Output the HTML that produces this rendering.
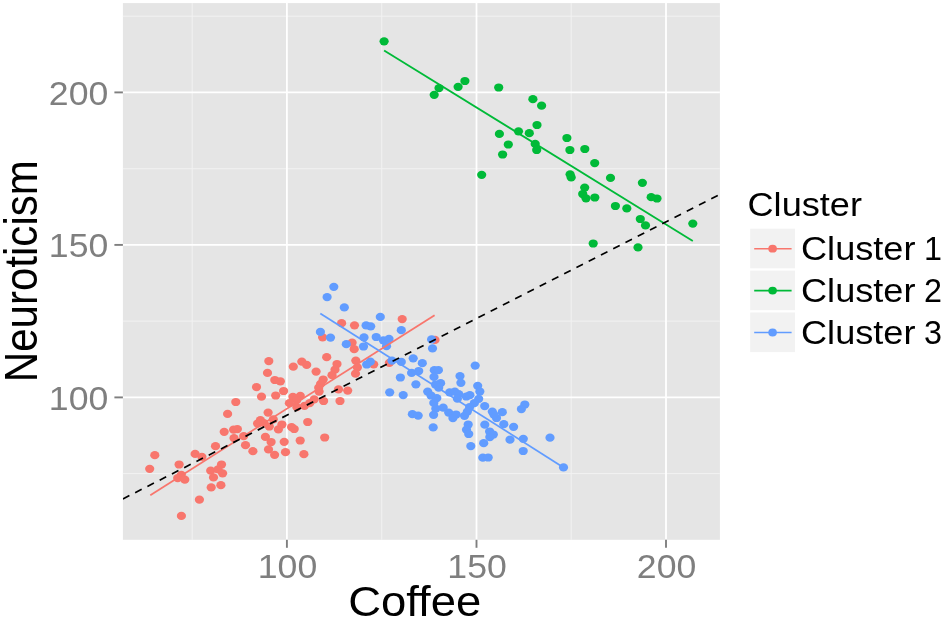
<!DOCTYPE html>
<html><head><meta charset="utf-8"><title>Coffee vs Neuroticism</title>
<style>html,body{margin:0;padding:0;background:#fff}svg{display:block}text{font-family:"Liberation Sans",sans-serif}</style></head><body>
<svg width="945" height="620" viewBox="0 0 945 620">
<rect width="945" height="620" fill="#fff"/>
<rect x="122.9" y="3.1" width="597.0" height="536.7" fill="#E5E5E5"/>
<g stroke="#F2F2F2" stroke-width="1">
<line x1="192.2" y1="3.1" x2="192.2" y2="539.8"/>
<line x1="381.7" y1="3.1" x2="381.7" y2="539.8"/>
<line x1="571.2" y1="3.1" x2="571.2" y2="539.8"/>
<line x1="122.9" y1="473.6" x2="719.9" y2="473.6"/>
<line x1="122.9" y1="321.1" x2="719.9" y2="321.1"/>
<line x1="122.9" y1="168.7" x2="719.9" y2="168.7"/>
<line x1="122.9" y1="16.2" x2="719.9" y2="16.2"/>
</g>
<g stroke="#FFFFFF" stroke-width="1.8">
<line x1="286.9" y1="3.1" x2="286.9" y2="539.8"/>
<line x1="122.9" y1="397.4" x2="719.9" y2="397.4"/>
<line x1="476.5" y1="3.1" x2="476.5" y2="539.8"/>
<line x1="122.9" y1="244.9" x2="719.9" y2="244.9"/>
<line x1="666.0" y1="3.1" x2="666.0" y2="539.8"/>
<line x1="122.9" y1="92.4" x2="719.9" y2="92.4"/>
</g>
<g stroke="#7F7F7F" stroke-width="1.9">
<line x1="286.9" y1="539.8" x2="286.9" y2="547.8"/>
<line x1="114.4" y1="397.4" x2="122.9" y2="397.4"/>
<line x1="476.5" y1="539.8" x2="476.5" y2="547.8"/>
<line x1="114.4" y1="244.9" x2="122.9" y2="244.9"/>
<line x1="666.0" y1="539.8" x2="666.0" y2="547.8"/>
<line x1="114.4" y1="92.4" x2="122.9" y2="92.4"/>
</g>
<g fill="#7F7F7F" font-size="32.5">
<text x="287.5" y="578.3" text-anchor="middle" textLength="59.5" lengthAdjust="spacingAndGlyphs">100</text>
<text x="108.3" y="409.5" text-anchor="end" textLength="59.5" lengthAdjust="spacingAndGlyphs">100</text>
<text x="477.1" y="578.3" text-anchor="middle" textLength="59.5" lengthAdjust="spacingAndGlyphs">150</text>
<text x="108.3" y="257.0" text-anchor="end" textLength="59.5" lengthAdjust="spacingAndGlyphs">150</text>
<text x="666.6" y="578.3" text-anchor="middle" textLength="59.5" lengthAdjust="spacingAndGlyphs">200</text>
<text x="108.3" y="104.5" text-anchor="end" textLength="59.5" lengthAdjust="spacingAndGlyphs">200</text>
</g>
<text x="348.2" y="616" font-size="43" textLength="133" lengthAdjust="spacingAndGlyphs" fill="#000">Coffee</text>
<text transform="translate(37.3,382.2) rotate(-90) scale(1,1.1)" font-size="42" textLength="222" lengthAdjust="spacingAndGlyphs" fill="#000">Neuroticism</text>
<clipPath id="c"><rect x="122.9" y="3.1" width="597.0" height="536.7"/></clipPath>
<g clip-path="url(#c)">
<g fill="#F8766D">
<ellipse cx="154.8" cy="455.2" rx="4.6" ry="4.1"/>
<ellipse cx="149.7" cy="468.8" rx="4.6" ry="4.1"/>
<ellipse cx="179.1" cy="464.5" rx="4.6" ry="4.1"/>
<ellipse cx="181.3" cy="474.8" rx="4.6" ry="4.1"/>
<ellipse cx="177.7" cy="478.1" rx="4.6" ry="4.1"/>
<ellipse cx="184.8" cy="479.7" rx="4.6" ry="4.1"/>
<ellipse cx="181.4" cy="515.9" rx="4.6" ry="4.1"/>
<ellipse cx="195.1" cy="453.9" rx="4.6" ry="4.1"/>
<ellipse cx="201.9" cy="456.8" rx="4.6" ry="4.1"/>
<ellipse cx="215.5" cy="446.2" rx="4.6" ry="4.1"/>
<ellipse cx="199.4" cy="499.7" rx="4.6" ry="4.1"/>
<ellipse cx="210.7" cy="470.7" rx="4.6" ry="4.1"/>
<ellipse cx="221.5" cy="464.5" rx="4.6" ry="4.1"/>
<ellipse cx="218.1" cy="469.4" rx="4.6" ry="4.1"/>
<ellipse cx="222.6" cy="473.3" rx="4.6" ry="4.1"/>
<ellipse cx="213.5" cy="477.4" rx="4.6" ry="4.1"/>
<ellipse cx="220.9" cy="485.2" rx="4.6" ry="4.1"/>
<ellipse cx="211.2" cy="487.4" rx="4.6" ry="4.1"/>
<ellipse cx="245.5" cy="445.2" rx="4.6" ry="4.1"/>
<ellipse cx="252.9" cy="451.2" rx="4.6" ry="4.1"/>
<ellipse cx="235.8" cy="402.0" rx="4.6" ry="4.1"/>
<ellipse cx="227.6" cy="413.9" rx="4.6" ry="4.1"/>
<ellipse cx="224.2" cy="431.8" rx="4.6" ry="4.1"/>
<ellipse cx="233.6" cy="429.7" rx="4.6" ry="4.1"/>
<ellipse cx="237.4" cy="429.1" rx="4.6" ry="4.1"/>
<ellipse cx="234.0" cy="438.1" rx="4.6" ry="4.1"/>
<ellipse cx="243.7" cy="436.1" rx="4.6" ry="4.1"/>
<ellipse cx="261.5" cy="396.7" rx="4.6" ry="4.1"/>
<ellipse cx="275.7" cy="395.5" rx="4.6" ry="4.1"/>
<ellipse cx="268.1" cy="412.6" rx="4.6" ry="4.1"/>
<ellipse cx="260.4" cy="420.2" rx="4.6" ry="4.1"/>
<ellipse cx="257.6" cy="423.5" rx="4.6" ry="4.1"/>
<ellipse cx="264.0" cy="423.2" rx="4.6" ry="4.1"/>
<ellipse cx="273.3" cy="419.3" rx="4.6" ry="4.1"/>
<ellipse cx="269.3" cy="426.5" rx="4.6" ry="4.1"/>
<ellipse cx="281.9" cy="424.5" rx="4.6" ry="4.1"/>
<ellipse cx="278.4" cy="429.4" rx="4.6" ry="4.1"/>
<ellipse cx="265.4" cy="436.9" rx="4.6" ry="4.1"/>
<ellipse cx="271.1" cy="442.0" rx="4.6" ry="4.1"/>
<ellipse cx="268.5" cy="449.4" rx="4.6" ry="4.1"/>
<ellipse cx="284.2" cy="441.8" rx="4.6" ry="4.1"/>
<ellipse cx="285.5" cy="452.2" rx="4.6" ry="4.1"/>
<ellipse cx="274.6" cy="454.8" rx="4.6" ry="4.1"/>
<ellipse cx="256.5" cy="387.1" rx="4.6" ry="4.1"/>
<ellipse cx="268.8" cy="361.1" rx="4.6" ry="4.1"/>
<ellipse cx="267.5" cy="372.9" rx="4.6" ry="4.1"/>
<ellipse cx="274.8" cy="380.0" rx="4.6" ry="4.1"/>
<ellipse cx="280.4" cy="381.3" rx="4.6" ry="4.1"/>
<ellipse cx="283.6" cy="391.0" rx="4.6" ry="4.1"/>
<ellipse cx="293.3" cy="366.7" rx="4.6" ry="4.1"/>
<ellipse cx="301.8" cy="361.7" rx="4.6" ry="4.1"/>
<ellipse cx="306.7" cy="364.9" rx="4.6" ry="4.1"/>
<ellipse cx="316.1" cy="371.6" rx="4.6" ry="4.1"/>
<ellipse cx="337.0" cy="364.0" rx="4.6" ry="4.1"/>
<ellipse cx="335.0" cy="369.7" rx="4.6" ry="4.1"/>
<ellipse cx="332.0" cy="375.2" rx="4.6" ry="4.1"/>
<ellipse cx="323.2" cy="379.5" rx="4.6" ry="4.1"/>
<ellipse cx="320.6" cy="383.9" rx="4.6" ry="4.1"/>
<ellipse cx="318.7" cy="387.7" rx="4.6" ry="4.1"/>
<ellipse cx="319.1" cy="391.6" rx="4.6" ry="4.1"/>
<ellipse cx="355.8" cy="360.6" rx="4.6" ry="4.1"/>
<ellipse cx="357.4" cy="367.4" rx="4.6" ry="4.1"/>
<ellipse cx="355.5" cy="373.7" rx="4.6" ry="4.1"/>
<ellipse cx="373.7" cy="364.3" rx="4.6" ry="4.1"/>
<ellipse cx="338.5" cy="389.4" rx="4.6" ry="4.1"/>
<ellipse cx="347.7" cy="390.6" rx="4.6" ry="4.1"/>
<ellipse cx="340.0" cy="401.0" rx="4.6" ry="4.1"/>
<ellipse cx="323.6" cy="401.0" rx="4.6" ry="4.1"/>
<ellipse cx="314.2" cy="399.4" rx="4.6" ry="4.1"/>
<ellipse cx="309.7" cy="403.2" rx="4.6" ry="4.1"/>
<ellipse cx="304.5" cy="405.8" rx="4.6" ry="4.1"/>
<ellipse cx="292.9" cy="396.8" rx="4.6" ry="4.1"/>
<ellipse cx="300.3" cy="395.9" rx="4.6" ry="4.1"/>
<ellipse cx="296.8" cy="400.0" rx="4.6" ry="4.1"/>
<ellipse cx="289.4" cy="403.2" rx="4.6" ry="4.1"/>
<ellipse cx="296.8" cy="407.1" rx="4.6" ry="4.1"/>
<ellipse cx="307.7" cy="422.0" rx="4.6" ry="4.1"/>
<ellipse cx="291.6" cy="427.1" rx="4.6" ry="4.1"/>
<ellipse cx="294.2" cy="429.0" rx="4.6" ry="4.1"/>
<ellipse cx="324.7" cy="437.5" rx="4.6" ry="4.1"/>
<ellipse cx="300.2" cy="440.5" rx="4.6" ry="4.1"/>
<ellipse cx="303.9" cy="454.2" rx="4.6" ry="4.1"/>
<ellipse cx="326.7" cy="357.2" rx="4.6" ry="4.1"/>
<ellipse cx="322.6" cy="337.3" rx="4.6" ry="4.1"/>
<ellipse cx="341.6" cy="323.2" rx="4.6" ry="4.1"/>
<ellipse cx="354.5" cy="325.3" rx="4.6" ry="4.1"/>
<ellipse cx="352.1" cy="342.7" rx="4.6" ry="4.1"/>
<ellipse cx="354.2" cy="349.2" rx="4.6" ry="4.1"/>
<ellipse cx="402.2" cy="319.1" rx="4.6" ry="4.1"/>
<ellipse cx="435.0" cy="339.9" rx="4.6" ry="4.1"/>
<ellipse cx="389.4" cy="362.8" rx="4.6" ry="4.1"/>
</g>
<g fill="#00BA38">
<ellipse cx="384.1" cy="41.3" rx="4.6" ry="4.1"/>
<ellipse cx="434.2" cy="94.8" rx="4.6" ry="4.1"/>
<ellipse cx="439.0" cy="88.1" rx="4.6" ry="4.1"/>
<ellipse cx="458.1" cy="86.8" rx="4.6" ry="4.1"/>
<ellipse cx="464.9" cy="81.0" rx="4.6" ry="4.1"/>
<ellipse cx="498.7" cy="87.5" rx="4.6" ry="4.1"/>
<ellipse cx="532.9" cy="99.2" rx="4.6" ry="4.1"/>
<ellipse cx="541.6" cy="105.7" rx="4.6" ry="4.1"/>
<ellipse cx="499.4" cy="133.9" rx="4.6" ry="4.1"/>
<ellipse cx="518.5" cy="131.3" rx="4.6" ry="4.1"/>
<ellipse cx="529.3" cy="133.2" rx="4.6" ry="4.1"/>
<ellipse cx="537.0" cy="125.0" rx="4.6" ry="4.1"/>
<ellipse cx="508.3" cy="144.5" rx="4.6" ry="4.1"/>
<ellipse cx="502.6" cy="154.5" rx="4.6" ry="4.1"/>
<ellipse cx="535.2" cy="143.9" rx="4.6" ry="4.1"/>
<ellipse cx="536.7" cy="150.0" rx="4.6" ry="4.1"/>
<ellipse cx="566.9" cy="138.0" rx="4.6" ry="4.1"/>
<ellipse cx="569.9" cy="150.0" rx="4.6" ry="4.1"/>
<ellipse cx="584.8" cy="149.0" rx="4.6" ry="4.1"/>
<ellipse cx="481.7" cy="174.8" rx="4.6" ry="4.1"/>
<ellipse cx="570.1" cy="174.3" rx="4.6" ry="4.1"/>
<ellipse cx="571.2" cy="177.4" rx="4.6" ry="4.1"/>
<ellipse cx="594.7" cy="163.1" rx="4.6" ry="4.1"/>
<ellipse cx="610.5" cy="177.9" rx="4.6" ry="4.1"/>
<ellipse cx="642.4" cy="182.8" rx="4.6" ry="4.1"/>
<ellipse cx="584.7" cy="187.6" rx="4.6" ry="4.1"/>
<ellipse cx="582.7" cy="194.0" rx="4.6" ry="4.1"/>
<ellipse cx="586.0" cy="198.3" rx="4.6" ry="4.1"/>
<ellipse cx="594.8" cy="197.5" rx="4.6" ry="4.1"/>
<ellipse cx="651.2" cy="197.2" rx="4.6" ry="4.1"/>
<ellipse cx="657.0" cy="198.5" rx="4.6" ry="4.1"/>
<ellipse cx="615.4" cy="206.0" rx="4.6" ry="4.1"/>
<ellipse cx="626.8" cy="208.4" rx="4.6" ry="4.1"/>
<ellipse cx="640.3" cy="219.0" rx="4.6" ry="4.1"/>
<ellipse cx="645.5" cy="225.4" rx="4.6" ry="4.1"/>
<ellipse cx="692.8" cy="223.6" rx="4.6" ry="4.1"/>
<ellipse cx="638.0" cy="247.4" rx="4.6" ry="4.1"/>
<ellipse cx="593.2" cy="243.5" rx="4.6" ry="4.1"/>
</g>
<g fill="#619CFF">
<ellipse cx="333.8" cy="286.8" rx="4.6" ry="4.1"/>
<ellipse cx="327.1" cy="297.1" rx="4.6" ry="4.1"/>
<ellipse cx="344.3" cy="307.4" rx="4.6" ry="4.1"/>
<ellipse cx="380.3" cy="316.9" rx="4.6" ry="4.1"/>
<ellipse cx="320.4" cy="331.9" rx="4.6" ry="4.1"/>
<ellipse cx="330.5" cy="337.6" rx="4.6" ry="4.1"/>
<ellipse cx="346.3" cy="344.2" rx="4.6" ry="4.1"/>
<ellipse cx="366.1" cy="325.4" rx="4.6" ry="4.1"/>
<ellipse cx="370.7" cy="326.3" rx="4.6" ry="4.1"/>
<ellipse cx="364.0" cy="337.4" rx="4.6" ry="4.1"/>
<ellipse cx="363.5" cy="346.5" rx="4.6" ry="4.1"/>
<ellipse cx="376.2" cy="337.0" rx="4.6" ry="4.1"/>
<ellipse cx="383.4" cy="340.3" rx="4.6" ry="4.1"/>
<ellipse cx="389.0" cy="338.8" rx="4.6" ry="4.1"/>
<ellipse cx="386.5" cy="346.2" rx="4.6" ry="4.1"/>
<ellipse cx="401.3" cy="330.2" rx="4.6" ry="4.1"/>
<ellipse cx="431.6" cy="339.4" rx="4.6" ry="4.1"/>
<ellipse cx="432.5" cy="348.4" rx="4.6" ry="4.1"/>
<ellipse cx="413.2" cy="358.3" rx="4.6" ry="4.1"/>
<ellipse cx="422.3" cy="363.2" rx="4.6" ry="4.1"/>
<ellipse cx="401.3" cy="361.9" rx="4.6" ry="4.1"/>
<ellipse cx="392.0" cy="360.6" rx="4.6" ry="4.1"/>
<ellipse cx="370.3" cy="361.7" rx="4.6" ry="4.1"/>
<ellipse cx="366.7" cy="364.5" rx="4.6" ry="4.1"/>
<ellipse cx="475.2" cy="365.6" rx="4.6" ry="4.1"/>
<ellipse cx="418.7" cy="371.0" rx="4.6" ry="4.1"/>
<ellipse cx="411.6" cy="372.9" rx="4.6" ry="4.1"/>
<ellipse cx="400.4" cy="377.5" rx="4.6" ry="4.1"/>
<ellipse cx="434.3" cy="370.2" rx="4.6" ry="4.1"/>
<ellipse cx="438.4" cy="370.2" rx="4.6" ry="4.1"/>
<ellipse cx="434.0" cy="376.9" rx="4.6" ry="4.1"/>
<ellipse cx="460.0" cy="376.1" rx="4.6" ry="4.1"/>
<ellipse cx="460.9" cy="382.8" rx="4.6" ry="4.1"/>
<ellipse cx="415.9" cy="384.3" rx="4.6" ry="4.1"/>
<ellipse cx="389.7" cy="392.3" rx="4.6" ry="4.1"/>
<ellipse cx="403.2" cy="395.1" rx="4.6" ry="4.1"/>
<ellipse cx="440.6" cy="383.2" rx="4.6" ry="4.1"/>
<ellipse cx="435.5" cy="384.5" rx="4.6" ry="4.1"/>
<ellipse cx="438.7" cy="387.7" rx="4.6" ry="4.1"/>
<ellipse cx="427.7" cy="391.6" rx="4.6" ry="4.1"/>
<ellipse cx="431.0" cy="395.5" rx="4.6" ry="4.1"/>
<ellipse cx="436.8" cy="398.1" rx="4.6" ry="4.1"/>
<ellipse cx="433.8" cy="402.9" rx="4.6" ry="4.1"/>
<ellipse cx="449.7" cy="392.3" rx="4.6" ry="4.1"/>
<ellipse cx="454.8" cy="391.6" rx="4.6" ry="4.1"/>
<ellipse cx="458.7" cy="394.2" rx="4.6" ry="4.1"/>
<ellipse cx="457.4" cy="398.7" rx="4.6" ry="4.1"/>
<ellipse cx="466.3" cy="396.5" rx="4.6" ry="4.1"/>
<ellipse cx="469.9" cy="395.2" rx="4.6" ry="4.1"/>
<ellipse cx="477.7" cy="385.8" rx="4.6" ry="4.1"/>
<ellipse cx="479.8" cy="391.5" rx="4.6" ry="4.1"/>
<ellipse cx="478.7" cy="398.8" rx="4.6" ry="4.1"/>
<ellipse cx="474.3" cy="403.2" rx="4.6" ry="4.1"/>
<ellipse cx="469.6" cy="407.1" rx="4.6" ry="4.1"/>
<ellipse cx="484.7" cy="406.1" rx="4.6" ry="4.1"/>
<ellipse cx="492.3" cy="411.6" rx="4.6" ry="4.1"/>
<ellipse cx="496.5" cy="418.0" rx="4.6" ry="4.1"/>
<ellipse cx="464.5" cy="415.8" rx="4.6" ry="4.1"/>
<ellipse cx="467.4" cy="411.6" rx="4.6" ry="4.1"/>
<ellipse cx="443.2" cy="407.7" rx="4.6" ry="4.1"/>
<ellipse cx="435.8" cy="408.7" rx="4.6" ry="4.1"/>
<ellipse cx="433.6" cy="414.8" rx="4.6" ry="4.1"/>
<ellipse cx="448.7" cy="412.6" rx="4.6" ry="4.1"/>
<ellipse cx="456.1" cy="414.5" rx="4.6" ry="4.1"/>
<ellipse cx="452.9" cy="418.1" rx="4.6" ry="4.1"/>
<ellipse cx="412.4" cy="414.2" rx="4.6" ry="4.1"/>
<ellipse cx="418.2" cy="415.6" rx="4.6" ry="4.1"/>
<ellipse cx="433.2" cy="427.4" rx="4.6" ry="4.1"/>
<ellipse cx="468.2" cy="424.5" rx="4.6" ry="4.1"/>
<ellipse cx="466.5" cy="429.7" rx="4.6" ry="4.1"/>
<ellipse cx="468.7" cy="434.0" rx="4.6" ry="4.1"/>
<ellipse cx="484.8" cy="424.7" rx="4.6" ry="4.1"/>
<ellipse cx="489.6" cy="431.5" rx="4.6" ry="4.1"/>
<ellipse cx="493.3" cy="434.5" rx="4.6" ry="4.1"/>
<ellipse cx="489.8" cy="437.1" rx="4.6" ry="4.1"/>
<ellipse cx="483.7" cy="443.2" rx="4.6" ry="4.1"/>
<ellipse cx="502.3" cy="412.2" rx="4.6" ry="4.1"/>
<ellipse cx="493.9" cy="414.6" rx="4.6" ry="4.1"/>
<ellipse cx="524.8" cy="404.5" rx="4.6" ry="4.1"/>
<ellipse cx="521.4" cy="409.1" rx="4.6" ry="4.1"/>
<ellipse cx="503.8" cy="424.2" rx="4.6" ry="4.1"/>
<ellipse cx="513.6" cy="426.8" rx="4.6" ry="4.1"/>
<ellipse cx="510.0" cy="439.7" rx="4.6" ry="4.1"/>
<ellipse cx="523.3" cy="438.8" rx="4.6" ry="4.1"/>
<ellipse cx="550.0" cy="437.7" rx="4.6" ry="4.1"/>
<ellipse cx="523.2" cy="451.0" rx="4.6" ry="4.1"/>
<ellipse cx="482.8" cy="457.7" rx="4.6" ry="4.1"/>
<ellipse cx="488.2" cy="457.5" rx="4.6" ry="4.1"/>
<ellipse cx="563.5" cy="467.4" rx="4.6" ry="4.1"/>
<ellipse cx="470.8" cy="446.1" rx="4.6" ry="4.1"/>
</g>
<line x1="150.3" y1="495.2" x2="434.6" y2="315.2" stroke="#F8766D" stroke-width="1.8"/>
<line x1="384.1" y1="50.5" x2="692.8" y2="240.9" stroke="#00BA38" stroke-width="1.8"/>
<line x1="320.3" y1="313.5" x2="563.5" y2="467.4" stroke="#619CFF" stroke-width="1.8"/>
<line x1="122.9" y1="498.9" x2="719.9" y2="194.4" stroke="#000" stroke-width="1.7" stroke-dasharray="7.3 6.46"/>
</g>
<text x="747.5" y="215.8" font-size="32.3" textLength="114.5" lengthAdjust="spacingAndGlyphs" fill="#000">Cluster</text>
<rect x="750.2" y="228.7" width="44.8" height="39.6" fill="#F2F2F2"/>
<line x1="754.2" y1="248.7" x2="791.6" y2="248.7" stroke="#F8766D" stroke-width="1.6"/>
<ellipse cx="772.6" cy="248.7" rx="4.3" ry="3.9" fill="#F8766D"/>
<text y="260.4" font-size="32.3" fill="#000"><tspan x="801" textLength="114.5" lengthAdjust="spacingAndGlyphs">Cluster</tspan> <tspan x="924">1</tspan></text>
<rect x="750.2" y="270.6" width="44.8" height="39.6" fill="#F2F2F2"/>
<line x1="754.2" y1="290.6" x2="791.6" y2="290.6" stroke="#00BA38" stroke-width="1.6"/>
<ellipse cx="772.6" cy="290.6" rx="4.3" ry="3.9" fill="#00BA38"/>
<text y="302.3" font-size="32.3" fill="#000"><tspan x="801" textLength="114.5" lengthAdjust="spacingAndGlyphs">Cluster</tspan> <tspan x="924">2</tspan></text>
<rect x="750.2" y="312.5" width="44.8" height="39.6" fill="#F2F2F2"/>
<line x1="754.2" y1="332.5" x2="791.6" y2="332.5" stroke="#619CFF" stroke-width="1.6"/>
<ellipse cx="772.6" cy="332.5" rx="4.3" ry="3.9" fill="#619CFF"/>
<text y="344.2" font-size="32.3" fill="#000"><tspan x="801" textLength="114.5" lengthAdjust="spacingAndGlyphs">Cluster</tspan> <tspan x="924">3</tspan></text>
</svg></body></html>
